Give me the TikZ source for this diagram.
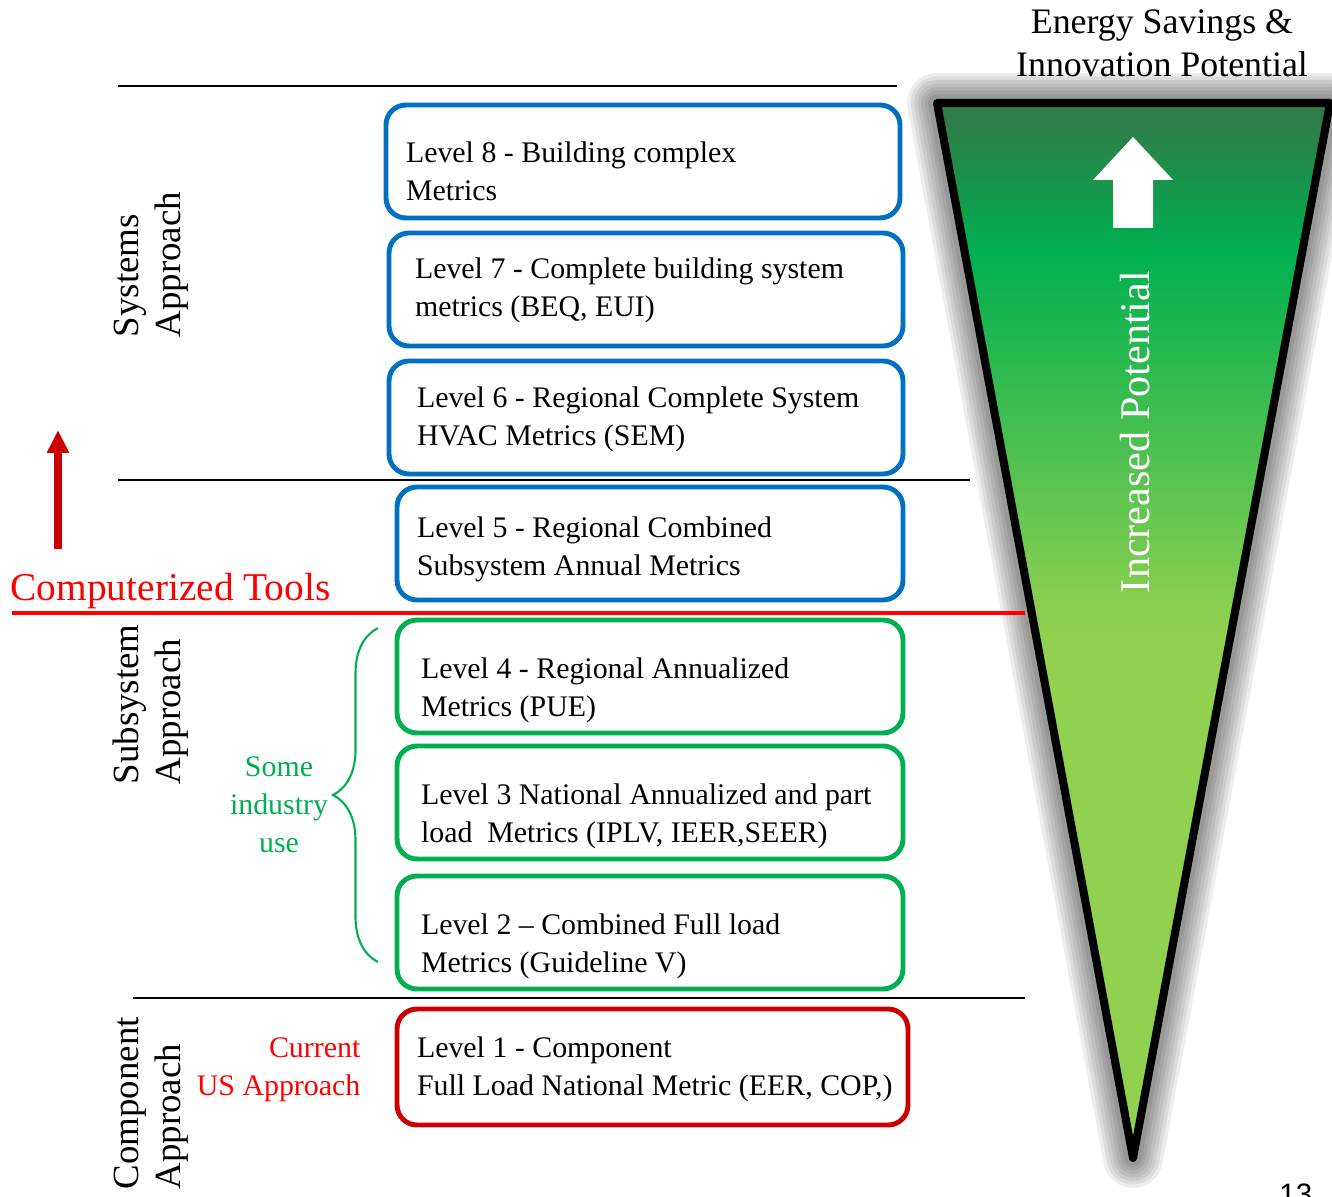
\documentclass[tikz,border=0pt]{standalone}
\usepackage{fontspec}
\setmainfont{Liberation Serif}
\newfontfamily\slidefont{Liberation Sans}
\usetikzlibrary{arrows.meta,decorations.pathreplacing}

\definecolor{lvblue}{RGB}{0,112,192}
\definecolor{lvgreen}{RGB}{0,176,80}
\definecolor{lvred}{RGB}{204,0,0}
\definecolor{topgreen}{RGB}{46,125,72}
\definecolor{midgreen}{RGB}{0,176,80}
\definecolor{lowgreen}{RGB}{146,208,80}
\pgfdeclareverticalshading{potential}{100bp}{color(0bp)=(lowgreen); color(50bp)=(lowgreen); color(68bp)=(midgreen); color(74bp)=(topgreen); color(100bp)=(topgreen)}
\newcommand{\lvstrut}[1]{\rule{0pt}{#1}}

\begin{document}
\begin{tikzpicture}[
    every node/.append style={execute at begin node={\spaceskip=0pt\xspaceskip=0pt}},
    lvbox/.style={draw=#1, line width=1.4pt, rounded corners=0.2cm, minimum height=1.13cm,
        inner ysep=0pt, align=left, font=\fontsize{8.5}{10.8}\selectfont},
    sidelbl/.style={rotate=90, align=left, inner sep=0pt, font=\fontsize{10.5}{11.9}\selectfont},
    sepline/.style={line width=0.6pt}
]
\useasboundingbox (0,0) rectangle (13.32,-11.96);

% Triangle
\coordinate (tl) at (9.37,-1.03);
\coordinate (tr) at (13.30,-1.03);
\coordinate (tip) at (11.33,-11.58);
\foreach \w in {17,15,13,11,9,7,5}
    \draw[black, opacity=0.07, line width=\w pt, line join=round, shift={(0.02,-0.03)}] (tl) -- (tr) -- (tip) -- cycle;
\fill[shading=potential] (tl) -- (tr) -- (tip) -- cycle;
\draw[line width=2.3pt, line join=round] (tl) -- (tr) -- (tip) -- cycle;
\fill[white] (11.33,-1.37) -- (11.73,-1.80) -- (11.53,-1.80) -- (11.53,-2.28)
    -- (11.13,-2.28) -- (11.13,-1.80) -- (10.93,-1.80) -- cycle;
\node[rotate=90, white, font=\fontsize{12}{14}\selectfont] (incp) at (11.35,-4.32) {Increased Potential};
\node[align=center, font=\fontsize{10.2}{12.2}\selectfont] (esip) at (11.62,-0.43) {Energy Savings \&\\Innovation Potential};

% Separators
\draw[sepline] (1.18,-0.86) -- (8.97,-0.86);
\draw[sepline] (1.18,-4.80) -- (9.70,-4.80);
\draw[sepline] (1.33,-9.98) -- (10.25,-9.98);
\draw[red, line width=1.4pt] (0.12,-6.13) -- (10.25,-6.13);

% Levels
\node[lvbox=lvblue, minimum width=5.14cm, inner xsep=0.20cm, text width=4.74cm] (l8) at (6.43,-1.615) {\lvstrut{11.6pt}Level 8 - Building complex\\Metrics};
\node[lvbox=lvblue, minimum width=5.14cm, inner xsep=0.26cm, text width=4.62cm] (l7) at (6.46,-2.895) {\lvstrut{6.3pt}Level 7 - Complete building system\\metrics (BEQ, EUI)};
\node[lvbox=lvblue, minimum width=5.14cm, inner xsep=0.28cm, text width=4.58cm] (l6) at (6.46,-4.175) {\lvstrut{6.9pt}Level 6 - Regional Complete System\\HVAC Metrics (SEM)};
\node[lvbox=lvblue, minimum width=5.06cm, inner xsep=0.20cm, text width=4.66cm] (l5) at (6.50,-5.435) {\lvstrut{9.3pt}Level 5 - Regional Combined\\Subsystem Annual Metrics};
\node[lvbox=lvgreen, minimum width=5.06cm, inner xsep=0.24cm, text width=4.58cm] (l4) at (6.50,-6.765) {\lvstrut{13.9pt}Level 4 - Regional Annualized\\Metrics (PUE)};
\node[lvbox=lvgreen, minimum width=5.06cm, inner xsep=0.24cm, text width=4.58cm] (l3) at (6.50,-8.025) {\lvstrut{13.9pt}\mbox{Level 3 National Annualized and part}\\load\ \ Metrics (IPLV, IEER,SEER)};
\node[lvbox=lvgreen, minimum width=5.06cm, inner xsep=0.24cm, text width=4.58cm] (l2) at (6.50,-9.325) {\lvstrut{13.9pt}Level 2 -- Combined Full load\\Metrics (Guideline V)};
\node[lvbox=lvred, minimum width=5.11cm, minimum height=1.16cm, inner xsep=0.20cm, text width=4.71cm] (l1) at (6.525,-10.67) {\lvstrut{7.2pt}Level 1 - Component\\\mbox{Full Load National Metric (EER, COP,)}};

% Side labels
\node[sidelbl, anchor=west] (sysl) at (1.51,-3.38) {Systems\\Approach};
\node[sidelbl, anchor=west] (subl) at (1.51,-7.85) {Subsystem\\Approach};
\node[sidelbl, anchor=west] (coml) at (1.51,-11.90) {Component\\Approach};
\node[anchor=base west, inner sep=0pt, red, font=\fontsize{11.2}{13}\selectfont] (ctools) at (0.10,-6.00) {Computerized Tools};
\node[align=center, lvgreen, font=\fontsize{8.5}{10.8}\selectfont] (indu) at (2.79,-8.05) {Some\\industry\\use};
\node[align=right, anchor=east, inner sep=0pt, red, font=\fontsize{8.5}{10.8}\selectfont] (usap) at (3.61,-10.70) {Current\\US Approach};
\node[anchor=north east, inner sep=0pt, font=\slidefont\fontsize{8.4}{10}\selectfont] (pgno) at (13.13,-11.83) {13};

% Arrow and brace
\coordinate (arrbot) at (0.58,-5.49);
\coordinate (arrtop) at (0.58,-4.30);
\draw[lvred, line width=2.3pt, -{Triangle[width=0.21cm, length=0.23cm]}] (arrbot) -- (arrtop);
\coordinate (brb) at (3.78,-9.62);
\coordinate (brt) at (3.78,-6.28);
\draw[lvgreen, line width=0.6pt, decorate, decoration={brace, amplitude=0.45cm}] (brb) -- (brt);
\end{tikzpicture}
\end{document}
